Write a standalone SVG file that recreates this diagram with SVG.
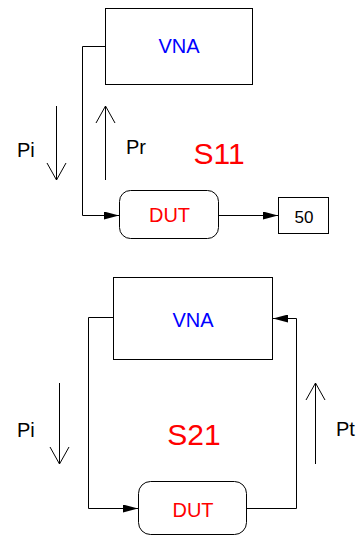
<svg xmlns="http://www.w3.org/2000/svg" width="363" height="536" viewBox="0 0 363 536">
<defs>
<marker id="fa" viewBox="0 0 15 8" refX="15" refY="4" markerWidth="15" markerHeight="8" markerUnits="userSpaceOnUse" orient="auto">
<path d="M0,0 L15,4 L0,8 Z" fill="#000"/>
</marker>
</defs>
<style>
.box{fill:#fff;stroke:#000;stroke-width:1}
.ln{fill:none;stroke:#000;stroke-width:1}
.t{font-family:"Liberation Sans",Arial,sans-serif;text-anchor:middle}
.blue{fill:#0000ff;font-size:20px}
.red{fill:#ff0000}
.blk{fill:#000}
</style>
<g id="connectors">
<polyline class="ln" points="105,46.5 82.5,46.5 82.5,215.5 119,215.5" marker-end="url(#fa)"/>
<line class="ln" x1="219" y1="215.5" x2="278" y2="215.5" marker-end="url(#fa)"/>
<polyline class="ln" points="113,317.5 88.5,317.5 88.5,508.5 138,508.5" marker-end="url(#fa)"/>
<polyline class="ln" points="247,508.5 296.5,508.5 296.5,318.5 273,318.5" marker-end="url(#fa)"/>
</g>
<g id="arrows">
<path class="ln" d="M56.5,106 V180 M47,163 L56.5,180 L66,163"/>
<path class="ln" d="M105.5,180 V106 M96,123 L105.5,106 L115,123"/>
<path class="ln" d="M59.5,383 V464 M50,447 L59.5,464 L69,447"/>
<path class="ln" d="M315.5,464 V383 M306,400 L315.5,383 L325,400"/>
</g>
<g id="vna1">
<rect class="box" x="105.5" y="8.5" width="147" height="76"/>
<text class="t blue" x="179" y="53">VNA</text>
</g>
<g id="dut1">
<rect class="box" x="119.5" y="190.5" width="99" height="48" rx="11"/>
<text class="t red" style="font-size:20px" x="169.5" y="222">DUT</text>
</g>
<g id="load50">
<rect class="box" x="278.5" y="197.5" width="50" height="36"/>
<text class="t blk" style="font-size:17px" x="304" y="222.5">50</text>
</g>
<g id="labels1">
<text class="blk" style="font-family:'Liberation Sans',Arial,sans-serif;font-size:20px" x="17" y="156.5">Pi</text>
<text class="blk" style="font-family:'Liberation Sans',Arial,sans-serif;font-size:20px" x="126" y="154">Pr</text>
<text class="t red" style="font-size:30px" x="219" y="164">S11</text>
</g>
<g id="vna2">
<rect class="box" x="113.5" y="277.5" width="159" height="82"/>
<text class="t blue" x="193" y="327">VNA</text>
</g>
<g id="dut2">
<rect class="box" x="138.5" y="481.5" width="108" height="53" rx="12"/>
<text class="t red" style="font-size:20px" x="193" y="517">DUT</text>
</g>
<g id="labels2">
<text class="blk" style="font-family:'Liberation Sans',Arial,sans-serif;font-size:20px" x="17" y="437">Pi</text>
<text class="blk" style="font-family:'Liberation Sans',Arial,sans-serif;font-size:20px" x="336" y="436">Pt</text>
<text class="t red" style="font-size:30px" x="194" y="445">S21</text>
</g>
</svg>
